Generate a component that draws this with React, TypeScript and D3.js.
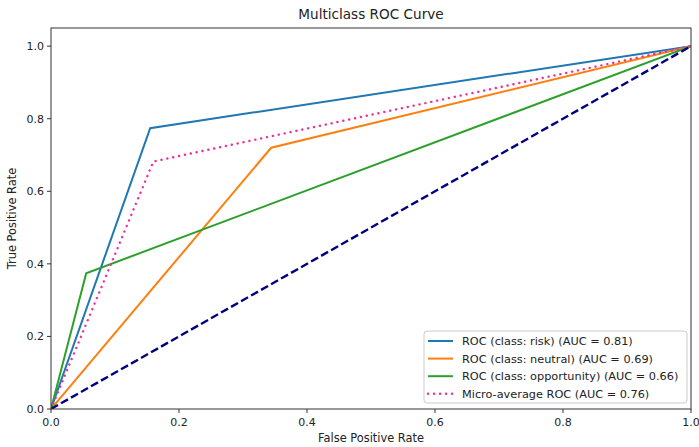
import * as d3 from "d3";

const riskFpr = [0, 0.155, 1];
const riskTpr = [0, 0.774, 1];
const neutralFpr = [0, 0.344, 1];
const neutralTpr = [0, 0.72, 1];
const oppFpr = [0, 0.055, 1];
const oppTpr = [0, 0.374, 1];
const microFpr = [0, 0.16, 1];
const microTpr = [0, 0.682, 1];
const chanceFpr = [0, 1];
const chanceTpr = [0, 1];

const tickValues = [0, 0.2, 0.4, 0.6, 0.8, 1.0];

const series = [
  { label: "ROC (class: risk) (AUC = 0.81)", x: riskFpr, y: riskTpr, color: "#1f77b4", dash: "" },
  { label: "ROC (class: neutral) (AUC = 0.69)", x: neutralFpr, y: neutralTpr, color: "#ff7f0e", dash: "" },
  { label: "ROC (class: opportunity) (AUC = 0.66)", x: oppFpr, y: oppTpr, color: "#2ca02c", dash: "" },
  { label: "Micro-average ROC (AUC = 0.76)", x: microFpr, y: microTpr, color: "#f0309a", dash: "0.1,5.9" },
];

const W = 699;
const H = 447;
const m = { left: 51, right: 8, top: 28, bottom: 38 };

export default function App() {
  const x = d3.scaleLinear().domain([0, 1]).range([m.left, W - m.right]);
  const y = d3.scaleLinear().domain([0, 1.05]).range([H - m.bottom, m.top]);
  const line = (xs: number[], ys: number[]) =>
    d3
      .line<number>()
      .x((_, i) => x(xs[i]))
      .y((_, i) => y(ys[i]))(xs) as string;

  const font = "DejaVu Sans, sans-serif";
  const legX = 424;
  const legY = 331;
  const legW = 263;
  const rowH = 17.6;

  return (
    <svg
      width={W}
      height={H}
      style={{ position: "absolute", left: 0, top: 0, fontFamily: font }}
    >
      <rect width={W} height={H} fill="white" />
      <defs>
        <clipPath id="plot">
          <rect x={m.left} y={m.top} width={W - m.right - m.left} height={H - m.bottom - m.top} />
        </clipPath>
      </defs>
      <g clipPath="url(#plot)">
        {series.map((s) => (
          <path
            key={s.label}
            d={line(s.x, s.y)}
            fill="none"
            stroke={s.color}
            strokeWidth={s.dash ? 2.4 : 2}
            strokeDasharray={s.dash}
            strokeLinecap={s.dash ? "round" : "butt"}
          />
        ))}
        <path
          d={line(chanceFpr, chanceTpr)}
          fill="none"
          stroke="#000080"
          strokeWidth={2.4}
          strokeDasharray="8,3.5"
        />
      </g>
      <rect
        x={m.left}
        y={m.top}
        width={W - m.right - m.left}
        height={H - m.bottom - m.top}
        fill="none"
        stroke="#333"
        strokeWidth={1}
      />
      {tickValues.map((t) => (
        <g key={"x" + t}>
          <line x1={x(t)} x2={x(t)} y1={H - m.bottom} y2={H - m.bottom + 4} stroke="#333" />
          <text x={x(t)} y={H - m.bottom + 17} textAnchor="middle" fontSize={11} fill="#222">
            {t.toFixed(1)}
          </text>
        </g>
      ))}
      {tickValues.map((t) => (
        <g key={"y" + t}>
          <line x1={m.left - 4} x2={m.left} y1={y(t)} y2={y(t)} stroke="#333" />
          <text x={m.left - 7} y={y(t)} dy="0.35em" textAnchor="end" fontSize={11} fill="#222">
            {t.toFixed(1)}
          </text>
        </g>
      ))}
      <text x={(m.left + W - m.right) / 2} y={19} textAnchor="middle" fontSize={13.6} fill="#222">
        Multiclass ROC Curve
      </text>
      <text x={(m.left + W - m.right) / 2} y={442} textAnchor="middle" fontSize={11.4} fill="#222">
        False Positive Rate
      </text>
      <text
        transform={`translate(16,${(m.top + H - m.bottom) / 2}) rotate(-90)`}
        textAnchor="middle"
        fontSize={11.4}
        fill="#222"
      >
        True Positive Rate
      </text>
      <rect
        x={legX}
        y={legY}
        width={legW}
        height={72}
        rx={3}
        fill="white"
        fillOpacity={0.8}
        stroke="#ccc"
      />
      {series.map((s, i) => {
        const cy = legY + 10 + i * rowH;
        return (
          <g key={"leg" + i}>
            <line
              x1={legX + 4}
              x2={legX + 29}
              y1={cy}
              y2={cy}
              stroke={s.color}
              strokeWidth={s.dash ? 2.4 : 2}
              strokeDasharray={s.dash}
              strokeLinecap={s.dash ? "round" : "butt"}
            />
            <text x={legX + 38} y={cy} dy="0.35em" fontSize={11.3} fill="#222">
              {s.label}
            </text>
          </g>
        );
      })}
    </svg>
  );
}
